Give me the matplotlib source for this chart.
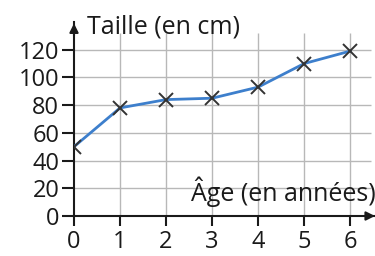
import matplotlib
matplotlib.use("Agg")
import matplotlib.pyplot as plt

# data
ages = [0, 1, 2, 3, 4, 5, 6]
tailles = [50, 78, 84, 85, 93, 110, 119]
x_ticks = [0, 1, 2, 3, 4, 5, 6]
y_ticks = [0, 20, 40, 60, 80, 100, 120]

plt.rcParams['font.family'] = ['Open Sans', 'DejaVu Sans']

fig = plt.figure(figsize=(3.75, 2.56), dpi=100)
ax = fig.add_axes([74 / 375, 40 / 256, 301 / 375, 194 / 256])
ax.set_xlim(0, 6.54)
ax.set_ylim(0, 140)

# grid
grid_col = '#b8b8b8'
ax.vlines(x_ticks[1:], 0, 132, color=grid_col, lw=1, zorder=1)
ax.hlines(y_ticks[1:], 0, 6.45, color=grid_col, lw=1, zorder=1)

# axes with arrows
for s in ['top', 'right']:
    ax.spines[s].set_visible(False)
for s in ['left', 'bottom']:
    ax.spines[s].set_color('#1a1a1a')
    ax.spines[s].set_linewidth(1.5)
ax.annotate('', xy=(0, 141), xytext=(0, 128),
            arrowprops=dict(arrowstyle='-|>', color='#1a1a1a', lw=1.5, mutation_scale=13),
            annotation_clip=False)
ax.annotate('', xy=(6.6, 0), xytext=(6.3, 0),
            arrowprops=dict(arrowstyle='-|>', color='#1a1a1a', lw=1.5, mutation_scale=13),
            annotation_clip=False)

ax.set_xticks(x_ticks)
ax.set_yticks(y_ticks)
ax.tick_params(axis='x', direction='out', length=7, width=1.5, color='#1a1a1a',
               labelsize=17, labelcolor='#1a1a1a', pad=3)
ax.tick_params(axis='y', direction='out', length=8.6, width=1.5, color='#1a1a1a',
               labelsize=17, labelcolor='#1a1a1a', pad=2)

ax.plot(ages, tailles, color='#3d7fcc', lw=2, zorder=3)
ax.plot(ages, tailles, 'x', color='#333333', ms=10, mew=1.4, zorder=4)

ax.text(0.28, 132, 'Taille (en cm)', fontsize=18, color='#1a1a1a', va='baseline', ha='left')
ax.text(6.56, 11, 'Âge (en années)', fontsize=18, color='#1a1a1a', va='baseline', ha='right')

fig.savefig('out.png', dpi=100)
